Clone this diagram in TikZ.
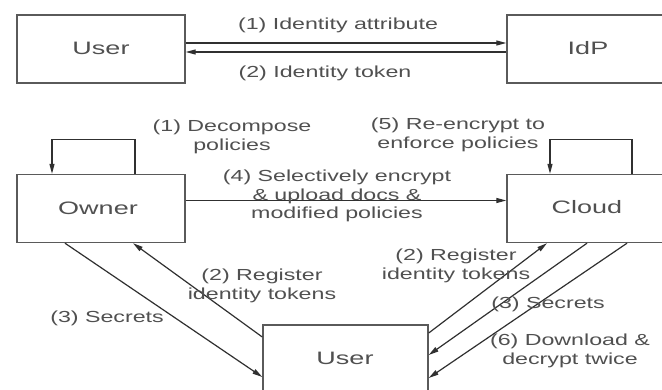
\documentclass[tikz,border=0pt]{standalone}
\usepackage{fontspec}
\setmainfont{Liberation Sans}
\usetikzlibrary{arrows.meta}
\definecolor{txtgray}{HTML}{505050}
\definecolor{linegray}{HTML}{303030}
\definecolor{boxgray}{HTML}{5A5A5A}
\tikzset{
  box/.style={draw=boxgray, line width=1.4pt, minimum width=168pt, minimum height=68pt, inner sep=0pt},
  boxtxt/.style={text=txtgray, font=\fontsize{18}{20}\selectfont, xscale=1.5, transform shape},
  lbl/.style={text=txtgray, font=\fontsize{16}{18.5}\selectfont, align=center, xscale=1.45, transform shape, inner sep=0pt},
  arr/.style={draw=linegray, line width=1.2pt, -{Triangle[length=10pt,width=5pt]}},
  ln/.style={draw=linegray, line width=1.2pt}
}
\begin{document}
\begin{tikzpicture}[x=1pt,y=-1pt]
\useasboundingbox (0,0) rectangle (662,389);
\clip (0,0) rectangle (662,389);
\fill[white] (0,0) rectangle (662,389);
% boxes
\node[box] (u1) at (101,49) {};
\node[box] (idp) at (591,49) {};
\node[box] (ow) at (101,208.5) {};
\node[box] (cl) at (591,208.5) {};
\node[box, minimum width=165pt] (bu) at (345.5,359) {};
\node[boxtxt] (tu1) at (101,48) {User};
\node[boxtxt] (tidp) at (588,48) {IdP};
\node[boxtxt] (tow) at (98,208) {Owner};
\node[boxtxt] (tcl) at (587,207) {Cloud};
\node[boxtxt] (tbu) at (345,358) {User};
% top arrows
\draw[arr] ([yshift=6pt]u1.east) -- ([yshift=6pt]idp.west);
\draw[arr] ([yshift=-3pt]idp.west) -- ([yshift=-3pt]u1.east);
\node[lbl] (l1) at (338,25) {(1) Identity attribute};
\node[lbl] (l2) at (325,73) {(2) Identity token};
% loops
\draw[arr] ([xshift=34pt]ow.north) -- ++(0,-34) -| ([xshift=-49pt]ow.north);
\draw[arr] ([xshift=41pt]cl.north) -- ++(0,-34) -| ([xshift=-41pt]cl.north);
\node[lbl] (l3) at (232,137) {(1) Decompose\\policies};
\node[lbl] (l4) at (458,135) {(5) Re-encrypt to\\enforce policies};
% owner to cloud
\draw[arr] ([yshift=8pt]ow.east) -- ([yshift=8pt]cl.west);
\node[lbl] (l5) at (337,196) {(4) Selectively encrypt\\\& upload docs \&\\modified policies};
% left diagonals
\draw[arr] ([xshift=-36pt]ow.south) -- ([yshift=-18pt]bu.west);
\draw[arr] ([yshift=22pt]bu.west) -- ([xshift=32pt]ow.south);
\node[lbl] (l6) at (107,318) {(3) Secrets};
\node[lbl] (l7) at (262,286) {(2) Register\\identity tokens};
% right diagonals
\draw[arr] ([yshift=26pt]bu.east) -- ([xshift=-44pt]cl.south);
\draw[arr] ([xshift=-4pt]cl.south) -- ([yshift=4pt]bu.east);
\draw[arr] ([xshift=36pt]cl.south) -- ([yshift=-19pt]bu.east);
\node[lbl] (l8) at (456,266) {(2) Register\\identity tokens};
\node[lbl] (l9) at (548,304) {(3) Secrets};
\node[lbl] (l10) at (570,351) {(6) Download \&\\decrypt twice};
\end{tikzpicture}
\end{document}
